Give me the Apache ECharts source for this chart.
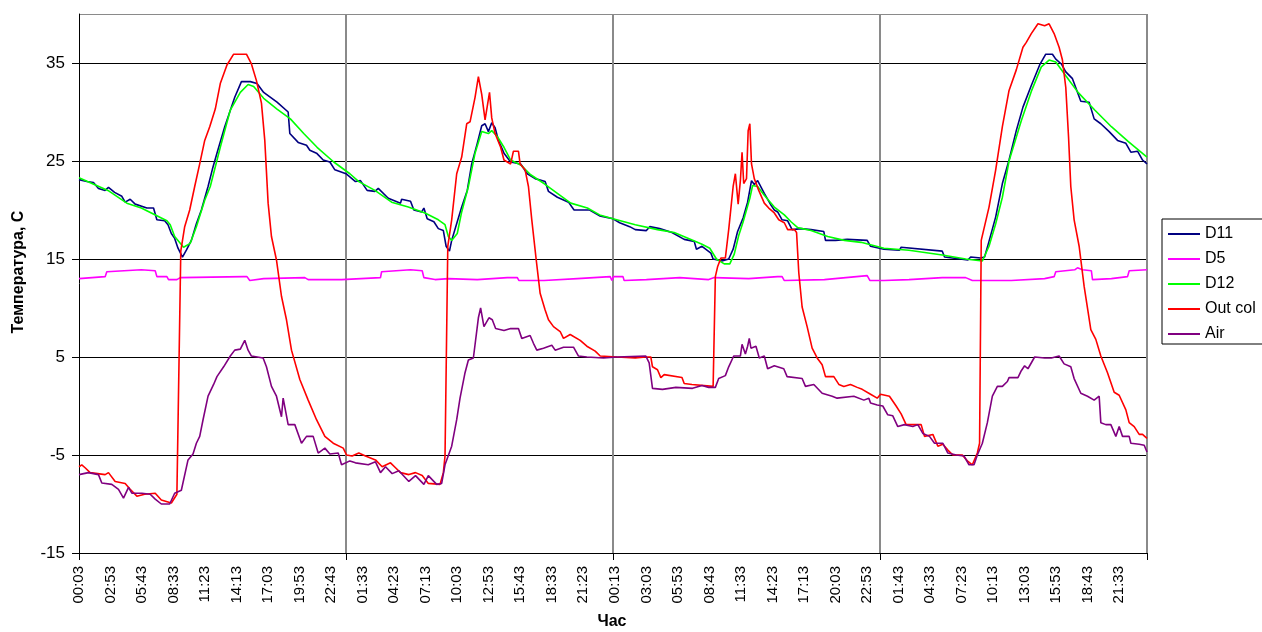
<!DOCTYPE html>
<html><head><meta charset="utf-8">
<script src="https://cdn.jsdelivr.net/npm/echarts@6/dist/echarts.min.js"></script>
<style>html,body{margin:0;padding:0;background:#fff}#c{width:1262px;height:632px}</style>
</head><body><div id="c"></div>
<script>
// Tick labels along the time axis (one every 170 minutes, starting at 00:03 of day 1)
const TICK_LABELS = ['00:03','02:53','05:43','08:33','11:23','14:13','17:03','19:53','22:43',
  '01:33','04:23','07:13','10:03','12:53','15:43','18:33','21:23',
  '00:13','03:03','05:53','08:43','11:33','14:23','17:13','20:03','22:53',
  '01:43','04:33','07:23','10:13','13:03','15:53','18:43','21:33'];
const SERIES_NAMES = ['D11','D5','D12','Out col','Air'];

// [hours since 00:03 of day 1, temperature °C]
const D11 = [[0,23.1],[0.7,22.9],[1.3,22.8],[1.75,22.2],[2.35,22.0],[2.65,22.3],[3.2,21.8],[3.85,21.4],[4.15,20.8],[4.6,21.1],[5.05,20.6],[6.1,20.2],[6.7,20.2],[7.0,19.0],[7.7,18.9],[8.0,18.5],[8.3,17.6],[8.6,17.1],[8.9,16.1],[9.3,15.2],[9.65,15.9],[10.1,16.9],[10.55,18.6],[11.0,20.0],[11.6,22.4],[12.0,24.2],[12.4,25.8],[13.1,28.5],[14.0,31.5],[14.6,33.1],[15.4,33.1],[16.0,32.9],[16.6,32.0],[17.8,31.0],[18.8,30.0],[18.95,27.8],[19.7,26.9],[20.45,26.6],[20.75,26.1],[21.35,25.8],[21.95,25.1],[22.55,24.9],[23.0,24.1],[24.0,23.7],[24.85,22.9],[25.3,23.0],[25.9,22.0],[26.6,21.9],[26.9,22.2],[27.8,21.2],[28.9,20.7],[29.0,21.1],[29.8,20.9],[30.1,20.0],[30.8,19.8],[31.0,20.2],[31.3,19.1],[31.9,18.8],[32.3,18.1],[32.75,17.9],[33.0,16.3],[33.3,15.8],[33.5,16.9],[34.0,18.8],[34.4,20.3],[34.9,22.0],[35.3,24.7],[35.8,26.8],[36.2,28.6],[36.5,28.8],[36.8,28.0],[37.1,28.9],[37.4,28.4],[37.7,27.1],[38.2,25.8],[38.8,24.9],[39.7,24.7],[40.3,23.7],[41.0,23.2],[41.9,22.9],[42.2,21.9],[43.0,21.3],[44.0,20.8],[44.5,20.0],[45.9,20.0],[46.8,19.4],[48.0,19.1],[48.6,18.7],[49.5,18.3],[50.0,18.0],[51.0,17.9],[51.3,18.3],[52.2,18.1],[53.3,17.7],[54.4,17.0],[55.3,16.8],[55.5,16.0],[56.0,16.3],[56.8,15.6],[57.0,15.0],[57.8,14.8],[58.4,15.0],[58.8,16.0],[59.2,17.8],[59.7,19.2],[60.1,20.8],[60.45,23.0],[60.7,22.6],[61.0,23.0],[61.6,21.7],[62.2,20.5],[62.5,20.0],[62.8,19.8],[63.2,19.0],[63.7,18.9],[64.1,18.0],[64.9,18.1],[65.8,18.0],[66.95,17.8],[67.1,16.9],[68.0,16.9],[68.15,17.1],[69.05,17.0],[70.85,16.9],[71.15,16.3],[72.35,16.0],[73.75,15.9],[73.9,16.2],[77.6,15.8],[77.8,15.2],[79.9,14.9],[80.15,15.2],[81.05,15.1],[81.4,15.2],[81.8,16.8],[82.4,19.3],[83.0,22.7],[83.6,25.1],[84.25,28.1],[84.85,30.5],[85.6,32.7],[86.35,34.8],[86.9,35.9],[87.5,35.9],[87.8,35.4],[88.3,34.9],[88.7,34.1],[89.3,33.4],[90.05,31.1],[90.8,31.0],[91.25,29.3],[91.85,28.8],[92.6,28.0],[93.35,27.1],[94.1,26.8],[94.55,25.9],[95.15,26.0],[95.6,25.1],[96,24.7]];

const D5 = [[0,13.0],[2.35,13.2],[2.5,13.7],[5.6,13.9],[6.85,13.8],[7.0,13.2],[7.9,13.2],[8.05,12.9],[8.8,12.9],[9.1,13.1],[14.8,13.2],[15.1,13.2],[15.35,12.8],[16.6,13.0],[20.3,13.1],[20.6,12.9],[23.6,12.9],[27.1,13.1],[27.2,13.7],[29.8,13.9],[30.85,13.8],[31.0,13.1],[32.0,12.9],[33.2,13.0],[35.8,12.9],[38.5,13.1],[39.4,13.1],[39.55,12.8],[41.8,12.8],[44.8,13.0],[47.75,13.2],[47.9,12.8],[48.05,13.2],[48.9,13.2],[49.0,12.8],[51.0,12.9],[54.0,13.1],[56.6,12.9],[57.1,13.1],[60.2,13.0],[62.8,13.2],[63.2,13.2],[63.4,12.8],[67.0,12.9],[67.1,13.1],[70.85,13.3],[71.1,12.8],[72.35,12.8],[74.6,12.9],[77.6,13.1],[79.7,13.1],[80.3,12.8],[83.8,12.8],[86.8,13.0],[87.65,13.2],[87.8,13.7],[89.5,13.9],[89.75,14.1],[90.2,13.9],[91.0,13.8],[91.1,12.9],[92.8,13.0],[94.25,13.2],[94.4,13.8],[96,13.9]];

const D12 = [[0,23.3],[2.6,22.0],[4.3,20.7],[5.6,20.2],[7.9,18.9],[8.2,18.5],[8.6,17.3],[9.4,16.2],[10.0,16.6],[10.55,18.3],[11.3,21.0],[11.8,22.4],[12.7,26.4],[13.6,30.2],[14.5,32.0],[15.2,32.8],[15.7,32.6],[16.6,31.4],[17.8,30.3],[19.0,29.3],[20.2,27.8],[21.4,26.4],[22.9,24.9],[24.35,23.7],[25.15,22.9],[26.6,22.0],[28.1,20.8],[29.6,20.3],[31.1,19.7],[32.3,19.0],[32.9,18.5],[33.2,17.3],[33.5,16.9],[34.0,17.6],[34.4,19.8],[35.0,22.4],[35.6,25.8],[36.2,28.0],[36.8,27.8],[37.1,28.1],[37.6,27.5],[38.2,26.4],[38.8,25.1],[39.7,24.6],[40.6,23.6],[41.8,22.7],[43.0,21.7],[44.2,20.7],[45.7,20.2],[46.8,19.5],[48.0,19.1],[50.0,18.5],[52.0,18.0],[53.5,17.7],[55.0,17.0],[56.0,16.5],[56.7,16.1],[57.3,15.0],[58.0,14.5],[58.5,14.5],[58.9,15.5],[59.3,17.4],[59.7,18.8],[60.3,21.2],[60.55,22.5],[61.0,22.4],[61.6,21.5],[62.5,20.3],[63.4,19.5],[64.0,18.8],[64.6,18.2],[65.8,17.9],[67.3,17.3],[68.8,16.9],[70.3,16.7],[72.35,16.1],[74.6,15.9],[77.6,15.4],[79.7,15.0],[81.2,14.8],[81.8,16.3],[82.4,18.6],[83.0,21.3],[83.6,25.0],[84.7,29.1],[85.6,32.1],[86.5,34.6],[87.2,35.3],[87.8,35.1],[88.7,33.7],[89.8,32.0],[91.3,30.2],[92.8,28.5],[94.3,27.0],[96,25.4]];

const OUT_COL = [[0,-6.2],[0.25,-6.0],[0.55,-6.3],[1.0,-6.8],[2.35,-7.0],[2.65,-6.8],[3.25,-7.7],[4.15,-7.9],[4.6,-8.5],[5.2,-9.2],[5.9,-9.0],[6.85,-8.9],[7.4,-9.6],[8.3,-9.9],[8.8,-9.0],[9.15,15.8],[9.5,18.3],[9.95,20.0],[10.4,22.4],[10.85,24.7],[11.3,27.1],[11.75,28.5],[12.25,30.3],[12.7,32.9],[13.3,34.8],[13.9,35.9],[15.05,35.9],[15.5,34.9],[15.95,33.2],[16.4,30.9],[16.7,27.1],[17.0,20.7],[17.3,17.3],[17.75,14.9],[18.2,11.2],[18.65,8.8],[19.1,5.7],[19.85,2.7],[20.6,0.6],[21.35,-1.4],[22.1,-3.1],[22.85,-3.8],[23.75,-4.3],[24.05,-5.0],[24.55,-5.1],[25.15,-4.8],[25.75,-5.1],[26.65,-5.5],[27.25,-6.2],[28.0,-5.8],[28.45,-6.3],[28.9,-6.8],[29.65,-7.0],[30.25,-6.8],[30.85,-7.1],[31.4,-7.9],[32.45,-8.0],[32.75,-6.8],[32.9,-5.1],[33.15,16.3],[33.5,19.0],[33.95,23.7],[34.4,25.4],[34.85,28.8],[35.15,29.0],[35.6,31.5],[35.9,33.6],[36.0,33.7],[36.2,31.8],[36.5,29.2],[36.9,32.0],[37.1,29.4],[37.4,27.8],[37.9,26.4],[38.2,25.1],[38.8,24.7],[39.05,26.0],[39.5,26.0],[39.65,24.7],[40.1,24.1],[40.4,22.4],[40.7,19.0],[41.1,14.9],[41.45,11.5],[41.9,9.8],[42.2,8.8],[42.65,8.1],[43.25,7.6],[43.55,6.9],[44.15,7.3],[45.05,6.7],[45.65,6.1],[46.4,5.6],[46.85,5.1],[48.35,5.0],[50.0,4.9],[50.95,5.0],[51.4,5.0],[51.55,4.0],[52.0,3.7],[52.3,2.9],[52.6,3.2],[54.2,2.9],[54.4,2.3],[55.1,2.2],[57.0,2.0],[57.2,13.2],[57.4,14.2],[57.7,15.1],[58.1,15.1],[58.4,18.0],[58.55,18.1],[58.8,22.4],[59.0,23.7],[59.25,20.6],[59.45,23.0],[59.6,25.9],[59.75,22.7],[60.0,23.2],[60.15,28.1],[60.3,28.8],[60.45,24.7],[60.7,23.2],[61.1,22.0],[61.6,20.7],[62.0,20.2],[62.5,19.7],[62.9,19.0],[63.4,18.7],[63.7,18.0],[64.3,18.0],[64.5,17.7],[64.7,13.6],[65.0,10.1],[65.45,8.1],[65.9,5.9],[66.35,4.9],[66.8,4.2],[67.1,3.0],[67.85,3.0],[68.3,2.2],[68.75,2.0],[69.35,2.2],[69.95,1.9],[70.4,1.7],[71.15,1.2],[71.75,0.8],[72.05,1.2],[72.85,1.0],[73.45,0.0],[73.9,-0.8],[74.35,-1.9],[75.7,-1.9],[76.0,-3.1],[76.75,-2.9],[77.2,-4.1],[77.65,-3.9],[78.1,-4.5],[78.55,-5.0],[79.4,-5.0],[79.85,-5.6],[80.3,-6.0],[80.75,-4.8],[80.95,-3.8],[81.1,16.9],[81.8,20.3],[82.4,24.1],[83.0,28.5],[83.6,32.2],[84.25,34.3],[84.85,36.6],[85.15,37.1],[85.6,38.0],[86.2,39.0],[86.8,38.8],[87.2,39.0],[87.65,38.0],[88.1,36.6],[88.4,35.3],[88.7,32.5],[88.95,27.4],[89.15,22.4],[89.45,19.0],[89.9,16.3],[90.35,12.2],[90.95,7.8],[91.4,6.8],[91.85,5.1],[92.45,3.4],[93.05,1.4],[93.5,1.1],[94.1,-0.4],[94.4,-1.7],[94.85,-2.1],[95.3,-2.9],[95.6,-2.9],[96,-3.3]];

const AIR = [[0,-7.0],[0.85,-6.8],[1.75,-7.0],[2.05,-7.85],[2.95,-8.0],[3.55,-8.5],[4.0,-9.4],[4.45,-8.3],[4.75,-8.9],[5.65,-8.9],[6.4,-9.0],[6.85,-9.5],[7.4,-10.0],[8.15,-10.0],[8.6,-8.9],[9.2,-8.6],[9.8,-5.5],[10.25,-4.9],[10.55,-3.8],[10.85,-3.1],[11.15,-1.4],[11.6,1.0],[12.1,2.2],[12.4,3.0],[13.0,4.0],[13.6,5.1],[14.0,5.7],[14.5,5.8],[14.9,6.7],[15.2,5.7],[15.5,5.1],[16.55,4.9],[16.85,4.0],[17.3,2.0],[17.75,1.0],[18.2,-1.1],[18.35,0.8],[18.8,-1.9],[19.4,-1.9],[20.0,-3.8],[20.45,-3.1],[21.05,-3.1],[21.5,-4.8],[22.1,-4.3],[22.55,-4.9],[23.3,-4.8],[23.6,-6.0],[24.35,-5.6],[24.85,-5.8],[26.0,-6.0],[26.65,-5.7],[27.1,-6.8],[27.55,-6.2],[28.15,-6.9],[28.75,-6.6],[29.65,-7.7],[30.25,-7.1],[31.0,-8.0],[31.4,-7.1],[32.15,-8.0],[32.6,-7.9],[32.9,-6.0],[33.5,-4.1],[33.95,-1.4],[34.25,0.8],[34.7,3.4],[35.0,4.7],[35.45,4.9],[35.9,9.0],[36.1,10.0],[36.4,8.1],[36.85,9.0],[37.15,8.8],[37.45,7.9],[38.2,7.7],[38.8,7.9],[39.5,7.9],[39.8,6.9],[40.55,7.2],[40.85,6.4],[41.15,5.7],[41.75,5.9],[42.5,6.2],[42.8,5.7],[43.55,6.0],[44.45,6.0],[44.9,5.1],[45.65,5.0],[47.15,4.9],[48.35,5.0],[50.95,5.1],[51.25,4.4],[51.55,1.8],[52.45,1.7],[53.65,1.9],[55.15,1.8],[56.0,2.1],[56.6,1.9],[57.2,1.9],[57.5,2.8],[58.1,3.1],[58.4,4.0],[58.85,5.1],[59.45,5.1],[59.6,6.3],[59.9,5.3],[60.1,6.1],[60.25,6.9],[60.4,5.9],[60.85,6.1],[61.15,4.9],[61.6,5.1],[61.9,3.8],[62.5,4.1],[63.35,3.8],[63.65,3.0],[65.0,2.8],[65.3,2.0],[66.05,2.2],[66.8,1.3],[67.7,1.0],[68.15,0.8],[69.65,1.0],[70.55,0.6],[71.0,0.8],[71.15,0.3],[71.75,0.1],[72.25,0.0],[72.7,-0.9],[73.15,-1.0],[73.6,-2.1],[74.2,-1.9],[74.95,-2.1],[75.4,-1.9],[75.85,-2.8],[76.45,-3.1],[76.9,-3.8],[77.65,-3.8],[78.1,-4.8],[78.85,-5.0],[79.55,-5.1],[80.0,-6.0],[80.45,-6.0],[80.75,-5.0],[81.2,-3.8],[81.65,-1.7],[82.1,1.0],[82.55,2.0],[83.0,2.0],[83.45,2.5],[83.6,2.9],[84.4,2.9],[84.7,3.6],[85.0,4.1],[85.3,3.8],[85.9,5.0],[86.8,4.9],[87.4,4.9],[88.1,5.1],[88.55,4.3],[89.15,4.0],[89.45,2.8],[90.05,1.3],[90.65,1.0],[91.25,0.6],[91.7,1.0],[91.85,-1.7],[92.3,-1.9],[92.75,-1.9],[93.2,-3.1],[93.5,-2.1],[93.8,-3.1],[94.4,-3.1],[94.55,-3.8],[95.3,-3.9],[95.75,-4.0],[96,-4.7]];

const COLORS = ['#000080','#FF00FF','#00FF00','#FF0000','#800080'];
const FONT = '"Liberation Sans", Arial, sans-serif';
const LABEL_STEP = 170;     // minutes between time labels
const DAY = 1440;           // minutes per day (vertical grid lines)
const X_MAX = 4 * DAY;

const toMinutes = arr => arr.map(p => [p[0] * 60, p[1]]);
const ALL = [D11, D5, D12, OUT_COL, AIR];

const chart = echarts.init(document.getElementById('c'), null, {renderer: 'canvas'});
chart.setOption({
  animation: false,
  backgroundColor: '#fff',
  grid: {left: 79, right: 115, top: 14, bottom: 79, containLabel: false},
  legend: {
    orient: 'vertical', left: 1162, top: 219,
    padding: [7, 40, 2, 6], itemGap: 9,
    itemWidth: 32, itemHeight: 2, icon: 'rect',
    borderColor: '#000', borderWidth: 1, backgroundColor: '#fff',
    textStyle: {fontFamily: FONT, fontSize: 16, color: '#000'},
    data: SERIES_NAMES
  },
  xAxis: [{
    type: 'value', min: 0, max: X_MAX, interval: LABEL_STEP, position: 'bottom',
    axisLine: {show: true, onZero: false, lineStyle: {color: '#000', width: 1}},
    axisTick: {show: false},
    splitLine: {show: false},
    axisLabel: {
      rotate: 90, margin: 13, fontFamily: FONT, fontSize: 15, color: '#000',
      showMaxLabel: false, hideOverlap: false,
      formatter: v => { const k = v / LABEL_STEP; return (Number.isInteger(k) && k < TICK_LABELS.length) ? TICK_LABELS[k] : ''; }
    }
  }, {
    type: 'value', min: 0, max: X_MAX, interval: DAY, position: 'bottom',
    axisLine: {show: false, onZero: false},
    axisTick: {show: true, length: 7, lineStyle: {color: '#000'}},
    axisLabel: {show: false},
    splitLine: {show: true, lineStyle: {color: ['transparent','#8a8a8a','#8a8a8a','#8a8a8a','#8a8a8a'], width: 2}}
  }],
  yAxis: {
    type: 'value', min: -15, max: 40, interval: 10,
    axisLine: {show: true, onZero: false, lineStyle: {color: '#000', width: 1}},
    axisTick: {show: true, length: 7, lineStyle: {color: '#000'}},
    axisLabel: {margin: 14, fontFamily: FONT, fontSize: 17, color: '#000', showMaxLabel: false},
    splitLine: {show: true, lineStyle: {color: ['#000','#000','#000','#000','#000','#000','#8a8a8a'], width: 1}}
  },
  graphic: [
    {type: 'text', x: 612, y: 622, style: {text: 'Час', font: 'bold 16px ' + FONT, fill: '#000', textAlign: 'center', textVerticalAlign: 'middle'}},
    {type: 'text', x: 19, y: 272, rotation: Math.PI / 2, style: {text: 'Температура, С', font: 'bold 16px ' + FONT, fill: '#000', textAlign: 'center', textVerticalAlign: 'middle'}}
  ],
  series: SERIES_NAMES.map((name, i) => ({
    name, type: 'line', xAxisIndex: 0, data: toMinutes(ALL[i]),
    showSymbol: false, symbol: 'none', smooth: false,
    lineStyle: {color: COLORS[i], width: 1.6},
    itemStyle: {color: COLORS[i]},
    emphasis: {disabled: true}
  }))
});
</script></body></html>
